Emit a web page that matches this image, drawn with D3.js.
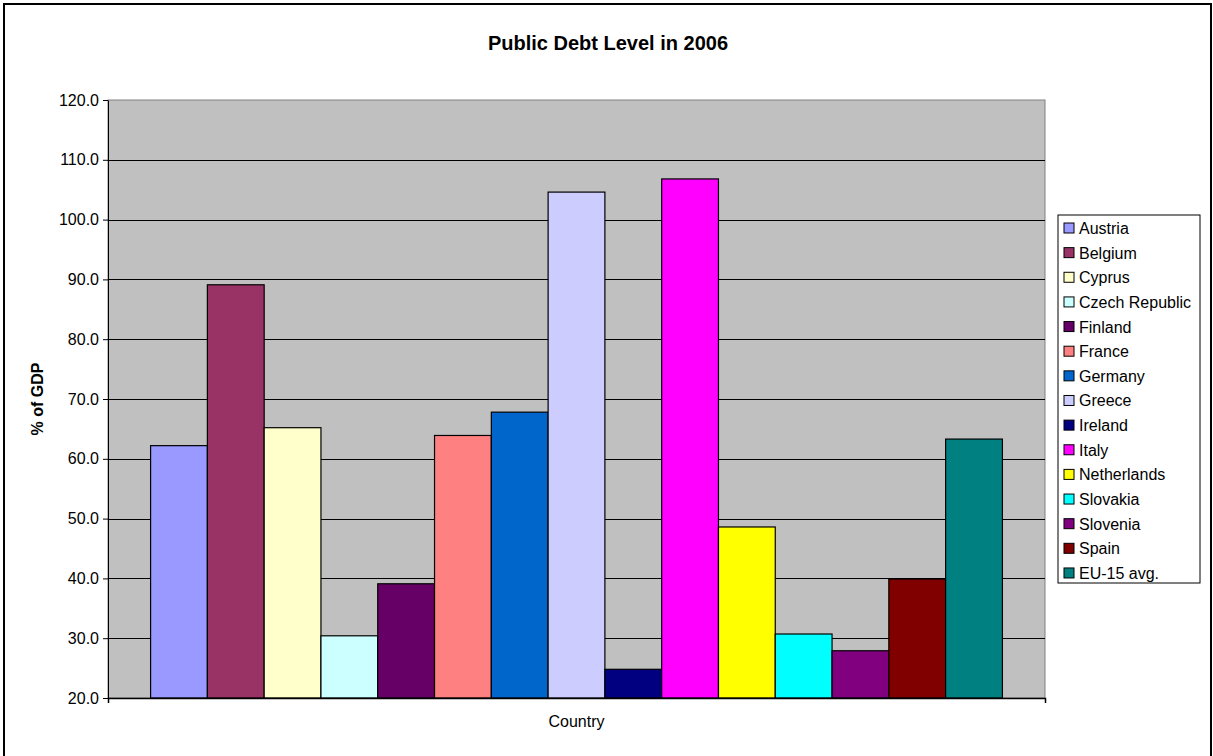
<!DOCTYPE html>
<html>
<head>
<meta charset="utf-8">
<script src="https://cdn.jsdelivr.net/npm/d3@7"></script>
<style>
  body { margin: 0; background: #fff; }
  svg { display: block; font-family: "Liberation Sans", Arial, sans-serif; }
</style>
</head>
<body>
<script>
// Data
var category = ["Country"];
var countries = ["Austria", "Belgium", "Cyprus", "Czech Republic", "Finland", "France", "Germany",
  "Greece", "Ireland", "Italy", "Netherlands", "Slovakia", "Slovenia", "Spain", "EU-15 avg."];
var debt = [62.2, 89.1, 65.2, 30.4, 39.1, 63.9, 67.8, 104.6, 24.8, 106.8, 48.6, 30.7, 27.9, 39.9, 63.3];
var colors = ["#9999FF", "#993366", "#FFFFCC", "#CCFFFF", "#660066", "#FF8080", "#0066CC",
  "#CCCCFF", "#000080", "#FF00FF", "#FFFF00", "#00FFFF", "#800080", "#800000", "#008080"];
var yTicks = [20, 30, 40, 50, 60, 70, 80, 90, 100, 110, 120];

var W = 1213, H = 756;
var margin = { top: 100, right: 168, bottom: 58, left: 108 },
    width = W - margin.left - margin.right,
    height = H - margin.top - margin.bottom;

var svg = d3.select("body").append("svg")
    .attr("width", W)
    .attr("height", H);

// Outer chart border
svg.append("rect")
    .attr("x", 4).attr("y", 4)
    .attr("width", W - 6).attr("height", H + 10)
    .attr("fill", "#fff")
    .attr("stroke", "#000")
    .attr("stroke-width", 2);

var g = svg.append("g")
    .attr("transform", "translate(" + margin.left + "," + margin.top + ")");

// Scales
var x0 = d3.scaleBand().domain(category).range([0, width]).paddingInner(0).paddingOuter(0.05);
var x1 = d3.scaleBand().domain(countries).range([0, x0.bandwidth()]);
var y = d3.scaleLinear().domain([20, 120]).range([height, 0]);
var color = d3.scaleOrdinal().domain(countries).range(colors);

// Plot area
g.append("rect")
    .attr("width", width).attr("height", height)
    .attr("fill", "#C0C0C0")
    .attr("stroke", "#808080");

// Gridlines
g.selectAll(".grid")
    .data(yTicks.slice(1, -1))
    .enter().append("line")
    .attr("x1", 0).attr("x2", width)
    .attr("y1", function (d) { return Math.round(y(d)) + 0.5; })
    .attr("y2", function (d) { return Math.round(y(d)) + 0.5; })
    .attr("stroke", "#000");

// Bars
g.append("g")
    .attr("transform", "translate(" + x0("Country") + ",0)")
    .selectAll("rect")
    .data(debt)
    .enter().append("rect")
    .attr("x", function (d, i) { return x1(countries[i]); })
    .attr("y", function (d) { return y(d); })
    .attr("width", x1.bandwidth())
    .attr("height", function (d) { return height - y(d); })
    .attr("fill", function (d, i) { return color(countries[i]); })
    .attr("stroke", "#000")
    .attr("stroke-width", 1.2);

// Y axis
var yAxis = g.append("g")
    .call(d3.axisLeft(y).tickValues(yTicks).tickFormat(d3.format(".1f")).tickSize(5).tickSizeOuter(0));
yAxis.select(".domain").attr("stroke", "#000");
yAxis.selectAll("text").style("font-size", "16px").attr("fill", "#000").attr("dx", "-1");

// X axis
var xAxis = g.append("g")
    .attr("transform", "translate(0," + height + ")")
    .call(d3.axisBottom(x0).tickSize(0).tickFormat("").tickSizeOuter(5));
xAxis.select(".domain").attr("stroke", "#000").attr("stroke-width", 1.5);

// Title
svg.append("text")
    .attr("x", 608)
    .attr("y", 50)
    .attr("text-anchor", "middle")
    .style("font-size", "20px")
    .style("font-weight", "bold")
    .text("Public Debt Level in 2006");

// Axis titles
g.append("text")
    .attr("x", x0("Country") + x0.bandwidth() / 2)
    .attr("y", height + 29)
    .attr("text-anchor", "middle")
    .style("font-size", "16px")
    .text("Country");

svg.append("text")
    .attr("transform", "translate(43," + (margin.top + height / 2) + ") rotate(-90)")
    .attr("text-anchor", "middle")
    .style("font-size", "16px")
    .style("font-weight", "bold")
    .text("% of GDP");

// Legend
var legend = svg.append("g").attr("transform", "translate(1058,215)");
legend.append("rect")
    .attr("width", 142).attr("height", 368)
    .attr("fill", "#fff")
    .attr("stroke", "#000");

var item = legend.selectAll(".item")
    .data(countries)
    .enter().append("g")
    .attr("transform", function (d, i) { return "translate(0," + (13 + i * 24.64) + ")"; });
item.append("rect")
    .attr("x", 6).attr("y", -5)
    .attr("width", 10).attr("height", 10)
    .attr("fill", function (d) { return color(d); })
    .attr("stroke", "#000");
item.append("text")
    .attr("x", 21).attr("y", 6)
    .style("font-size", "16px")
    .text(function (d) { return d; });
</script>
</body>
</html>
